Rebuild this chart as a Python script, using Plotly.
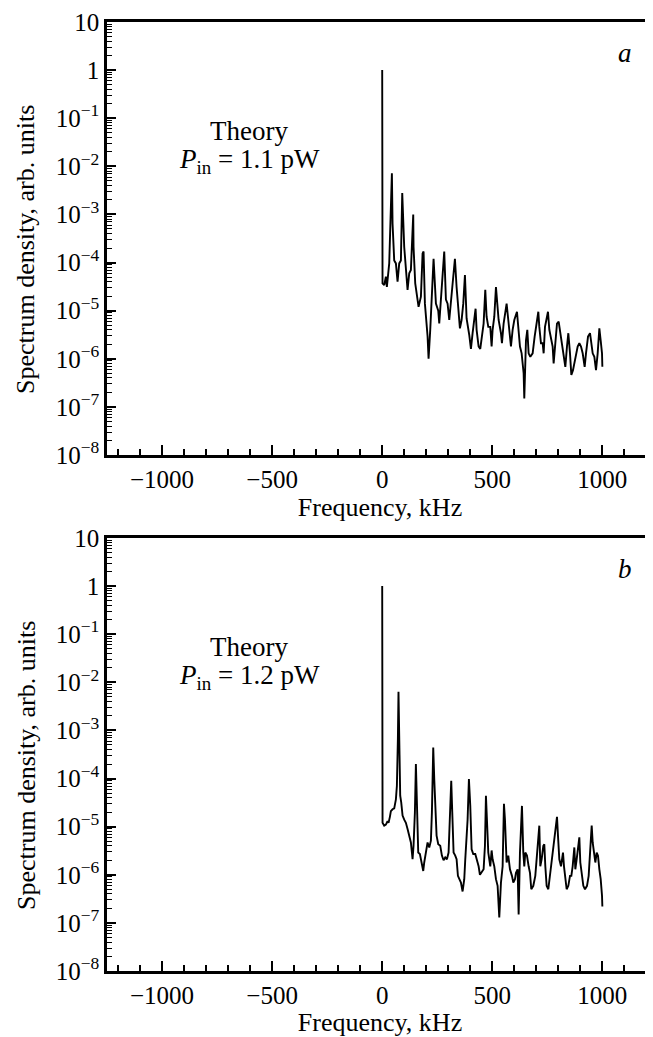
import plotly.graph_objects as go

# panel a: Theory, P_in = 1.1 pW
freq_a = [0, 1.5, 9.1, 16.7, 21.2, 31.9, 44, 47, 54.6, 62.2, 69.7, 77.3, 84.9, 91, 100, 107.6,
          115.2, 122.8, 130.3, 141, 142.4, 150, 160.6, 165.2, 175.8, 183.4, 187.9, 194, 206.1,
          210.6, 218.2, 225.8, 233.3, 244, 254.6, 259.1, 266.7, 274.3, 281.8, 289.4, 297, 304.6,
          312.1, 319.7, 330.3, 337.9, 345.5, 353, 360.6, 368.2, 375.8, 383.3, 395.5, 403, 410.6,
          418.2, 424.2, 428.8, 437.9, 445.4, 451.5, 460.6, 468.2, 474.2, 481.8, 490.9, 497, 501.5,
          509.1, 516.7, 522.7, 528.8, 539.4, 543.9, 551.5, 557.6, 565.1, 572.7, 580.3, 584.8,
          592.4, 600, 612.1, 619.7, 625.7, 633.3, 642.4, 645.4, 648.5, 653, 659.1, 665.1, 672.7,
          683.3, 692.4, 701.5, 709.1, 713.6, 721.2, 728.8, 733.3, 739.4, 747, 753, 759.1, 766.6,
          774.2, 778.7, 786.3, 793.9, 801.5, 809, 816.6, 824.2, 831.8, 839.3, 845.4, 853, 859.1,
          866.6, 877.2, 887.8, 895.4, 903, 910.6, 919.6, 925.7, 934.8, 943.9, 951.5, 956, 963.6,
          971.1, 978.7, 986.3, 992.4, 998.4, 1000]
dens_a = [1.0, 3.7e-5, 3.4e-5, 5.1e-5, 3.1e-5, 9.6e-5, 7.2e-3, 6.5e-4, 1.1e-4, 9.6e-5, 4.0e-5,
          9.6e-5, 1.1e-4, 2.8e-3, 2.1e-4, 6.0e-5, 2.7e-5, 6.0e-5, 7.0e-5, 1.0e-3, 2.1e-4, 3.7e-5,
          1.95e-5, 1.2e-5, 1.95e-5, 1.55e-4, 1.7e-4, 1.4e-5, 2.9e-6, 1.0e-6, 4.0e-6, 1.95e-5,
          1.2e-4, 1.4e-5, 1.0e-5, 5.4e-6, 1.5e-5, 5.1e-5, 1.7e-4, 1.7e-5, 1.4e-5, 6.4e-6, 1.4e-5,
          4.3e-5, 1.2e-4, 3.1e-5, 1.2e-5, 4.3e-6, 6.4e-6, 1.4e-5, 5.5e-5, 6.9e-6, 3.1e-6, 1.6e-6,
          3.4e-6, 6.4e-6, 1.1e-5, 4.0e-6, 1.8e-6, 1.6e-6, 2.9e-6, 5.4e-6, 2.7e-5, 7.5e-6, 4.6e-6,
          4.6e-6, 1.8e-6, 4.0e-6, 7.5e-6, 3.1e-5, 1.4e-5, 6.4e-6, 3.4e-6, 2.1e-6, 5.4e-6, 8.8e-6,
          1.4e-5, 6.4e-6, 3.4e-6, 1.8e-6, 4.0e-6, 6.4e-6, 9.5e-6, 3.4e-6, 1.8e-6, 1.3e-6, 5.0e-7,
          1.5e-7, 6.8e-7, 2.4e-6, 4.0e-6, 1.3e-6, 1.1e-6, 1.3e-6, 2.9e-6, 6.4e-6, 9.5e-6, 4.6e-6,
          2.1e-6, 2.1e-6, 1.3e-6, 4.6e-6, 7.5e-6, 9.5e-6, 4.0e-6, 2.4e-6, 1.8e-6, 8.0e-7, 1.8e-6,
          5.4e-6, 5.9e-6, 3.4e-6, 1.8e-6, 1.1e-6, 6.8e-7, 1.8e-6, 3.4e-6, 1.3e-6, 4.6e-7, 5.8e-7,
          1.1e-6, 1.8e-6, 2.1e-6, 1.8e-6, 1.3e-6, 6.8e-7, 1.3e-6, 2.9e-6, 3.4e-6, 1.8e-6, 1.3e-6,
          1.1e-6, 5.8e-7, 1.3e-6, 4.3e-6, 2.4e-6, 1.3e-6, 6.8e-7, 3.6e-7]

# panel b: Theory, P_in = 1.2 pW
freq_b = [0, 1.6, 9.1, 16.7, 24.3, 28.8, 34.9, 39.4, 47, 54.6, 62.2, 66.7, 71.2, 74, 78.8, 81.8,
          86.4, 92.5, 100, 107.6, 115.2, 122.8, 130.3, 134.9, 137.9, 142.4, 148.5, 153, 157.6,
          163.7, 171.2, 180.3, 186.4, 190.9, 198.5, 206.1, 213.7, 221.2, 225.8, 231.8, 236.4,
          240.9, 247, 254.6, 263.6, 271.2, 278.8, 286.4, 293.9, 301.5, 307.6, 313.6, 318.2, 324.2,
          331.8, 337.9, 343.9, 350, 357.6, 365.2, 372.7, 377.3, 383.3, 387.9, 393.9, 400, 406.1,
          413.6, 422.7, 430.3, 437.9, 443.9, 451.5, 460.6, 466.7, 471.2, 475.7, 481.8, 490.9, 497,
          501.5, 509.1, 516.7, 524.2, 531.8, 539.4, 547, 553, 557.6, 565.1, 572.7, 580.3, 589.4,
          595.4, 603, 607.6, 615.1, 619.7, 625.7, 630.3, 634.8, 640.9, 645.4, 650, 657.5, 665.1,
          671.2, 677.2, 686.3, 695.4, 703, 709.1, 713.6, 718.1, 724.2, 731.8, 736.3, 740.9, 746.9,
          754.5, 762.1, 769.7, 781.8, 789.4, 793.9, 798.4, 804.5, 812.1, 816.6, 821.2, 825.7,
          831.8, 837.8, 845.4, 853, 859.1, 865.1, 872.7, 877.2, 883.3, 890.9, 895.4, 899.9, 906,
          913.6, 921.1, 930.2, 937.8, 943.9, 951.5, 956, 962.1, 968.1, 974.2, 980.2, 986.3, 992.4,
          998.4, 1000]
dens_b = [1.0, 1.2e-5, 1.05e-5, 1.1e-5, 1.3e-5, 1.2e-5, 1.6e-5, 2.1e-5, 2.3e-5, 2.4e-5, 3.7e-5,
          7.1e-5, 6.6e-4, 6.4e-3, 3.0e-4, 4.4e-5, 3.2e-5, 1.7e-5, 1.4e-5, 1.2e-5, 8.9e-6, 6.5e-6,
          4.7e-6, 2.9e-6, 2.1e-6, 4.0e-6, 2.0e-5, 2.0e-4, 2.0e-5, 2.9e-6, 2.7e-6, 1.8e-6, 1.2e-6,
          1.8e-6, 2.9e-6, 4.7e-6, 3.7e-6, 5.1e-6, 2.0e-5, 4.4e-4, 9.8e-5, 2.3e-5, 6.5e-6, 4.3e-6,
          4.0e-6, 2.5e-6, 2.0e-6, 2.3e-6, 2.1e-6, 2.9e-6, 1.4e-5, 9.0e-5, 2.0e-5, 2.9e-6, 2.5e-6,
          2.1e-6, 9.5e-7, 8.1e-7, 6.9e-7, 4.5e-7, 8.1e-7, 2.1e-6, 6.5e-6, 1.4e-5, 9.8e-5, 2.7e-5,
          3.4e-6, 2.7e-6, 2.7e-6, 2.1e-6, 1.5e-6, 1.0e-6, 1.1e-6, 1.3e-6, 4.0e-6, 4.4e-5, 1.4e-5,
          2.9e-6, 1.5e-6, 3.2e-6, 2.1e-6, 1.5e-6, 8.1e-7, 5.9e-7, 1.3e-7, 6.9e-7, 1.5e-6, 3.0e-5,
          1.4e-5, 1.8e-6, 2.5e-6, 1.3e-6, 9.5e-7, 6.9e-7, 8.1e-7, 1.1e-6, 1.3e-6, 1.5e-7, 2.9e-6,
          1.4e-5, 2.7e-5, 2.9e-6, 1.5e-6, 2.9e-6, 2.5e-6, 1.5e-6, 1.1e-6, 5.0e-7, 5.9e-7, 9.5e-7,
          2.9e-6, 7.0e-6, 1.05e-5, 1.5e-6, 2.1e-6, 4.0e-6, 4.3e-6, 1.5e-6, 5.9e-7, 5.0e-7, 9.5e-7,
          2.1e-6, 5.5e-6, 8.9e-6, 1.6e-5, 6.5e-6, 2.1e-6, 1.5e-6, 2.1e-6, 2.9e-6, 1.5e-6, 8.1e-7,
          5.0e-7, 5.9e-7, 9.5e-7, 9.5e-7, 1.5e-6, 3.7e-6, 1.3e-6, 2.1e-6, 4.0e-6, 6.0e-6, 1.8e-6,
          9.5e-7, 5.9e-7, 5.0e-7, 5.9e-7, 9.5e-7, 2.9e-6, 1.05e-5, 4.7e-6, 2.5e-6, 1.8e-6, 2.9e-6,
          2.5e-6, 1.3e-6, 8.1e-7, 3.7e-7, 2.2e-7]

x_ticks = [-1000, -500, 0, 500, 1000]
x_labels = ["\u22121000", "\u2212500", "0", "500", "1000"]
y_ticks = [10.0 ** e for e in range(1, -9, -1)]
y_labels = ["10", "1"] + ["10<sup>\u2212%d</sup>" % k for k in range(1, 9)]

# the page body adds an 8 px margin, so the figure is 8 px smaller than the window
OFF = 8
W, H = 653 - OFF, 1037 - OFF
FONT = "Liberation Serif, Times New Roman, DejaVu Serif, serif"


def py(v):
    # screen pixel row -> paper y
    return 1 - (v - OFF) / H


def px(v):
    # screen pixel column -> paper x
    return (v - OFF) / W


fig = go.Figure()
fig.add_trace(go.Scatter(x=freq_a, y=dens_a, mode="lines", line=dict(color="black", width=1.9),
                         xaxis="x", yaxis="y", showlegend=False))
fig.add_trace(go.Scatter(x=freq_b, y=dens_b, mode="lines", line=dict(color="black", width=1.9),
                         xaxis="x2", yaxis="y2", showlegend=False))

minor_y = [k * 10.0 ** e for e in range(-8, 1) for k in range(2, 10)]

xax = dict(range=[-1250, 1230], domain=[px(107), 1], tickvals=x_ticks, ticktext=x_labels,
           automargin=False,
           ticks="inside", ticklen=10, tickwidth=1.5, tickcolor="black",
           showline=True, linewidth=2.5, linecolor="black", mirror=True,
           showgrid=False, zeroline=False,
           minor=dict(dtick=100, ticks="inside", ticklen=6, tickwidth=1.5, tickcolor="black", showgrid=False),
           tickfont=dict(family=FONT, size=25, color="black"),
           title=dict(text="Frequency, kHz", font=dict(family=FONT, size=26, color="black"), standoff=4))
yax = dict(type="log", range=[-8, 1], tickvals=y_ticks, ticktext=y_labels,
           automargin=False,
           ticks="inside", ticklen=9, tickwidth=1.5, tickcolor="black",
           showline=True, linewidth=2.5, linecolor="black",
           showgrid=False, zeroline=False,
           minor=dict(tickvals=minor_y, ticks="inside", ticklen=5, tickwidth=1, tickcolor="black", showgrid=False),
           tickfont=dict(family=FONT, size=25, color="black"))

fig.update_layout(
    template="none",
    width=W, height=H, margin=dict(l=0, r=0, t=0, b=0, pad=0),
    paper_bgcolor="white", plot_bgcolor="white",
    font=dict(family=FONT, size=25, color="black"),
    xaxis=dict(xax, anchor="y"),
    yaxis=dict(yax, domain=[py(455), py(22)], anchor="x"),
    xaxis2=dict(xax, anchor="y2"),
    yaxis2=dict(yax, domain=[py(971), py(538)], anchor="x2"),
)

notes = []
for top, tag, power in [(0, "a", "1.1"), (516, "b", "1.2")]:
    notes.append(dict(x=px(249), y=py(131 + top), text="Theory", size=27))
    notes.append(dict(x=px(249), y=py(161 + top), size=27,
                      text="<i>P</i><sub>in</sub> = %s pW" % power))
    notes.append(dict(x=px(625), y=py(53 + top), text="<i>%s</i>" % tag, size=27))
    notes.append(dict(x=px(26), y=py(250 + top), text="Spectrum density, arb. units",
                      textangle=-90, size=26))
for n in notes:
    size = n.pop("size")
    n.update(xref="paper", yref="paper", showarrow=False, xanchor="center", yanchor="middle",
             font=dict(family=FONT, size=size, color="black"))
    fig.add_annotation(**n)

fig.write_html("out.html")
